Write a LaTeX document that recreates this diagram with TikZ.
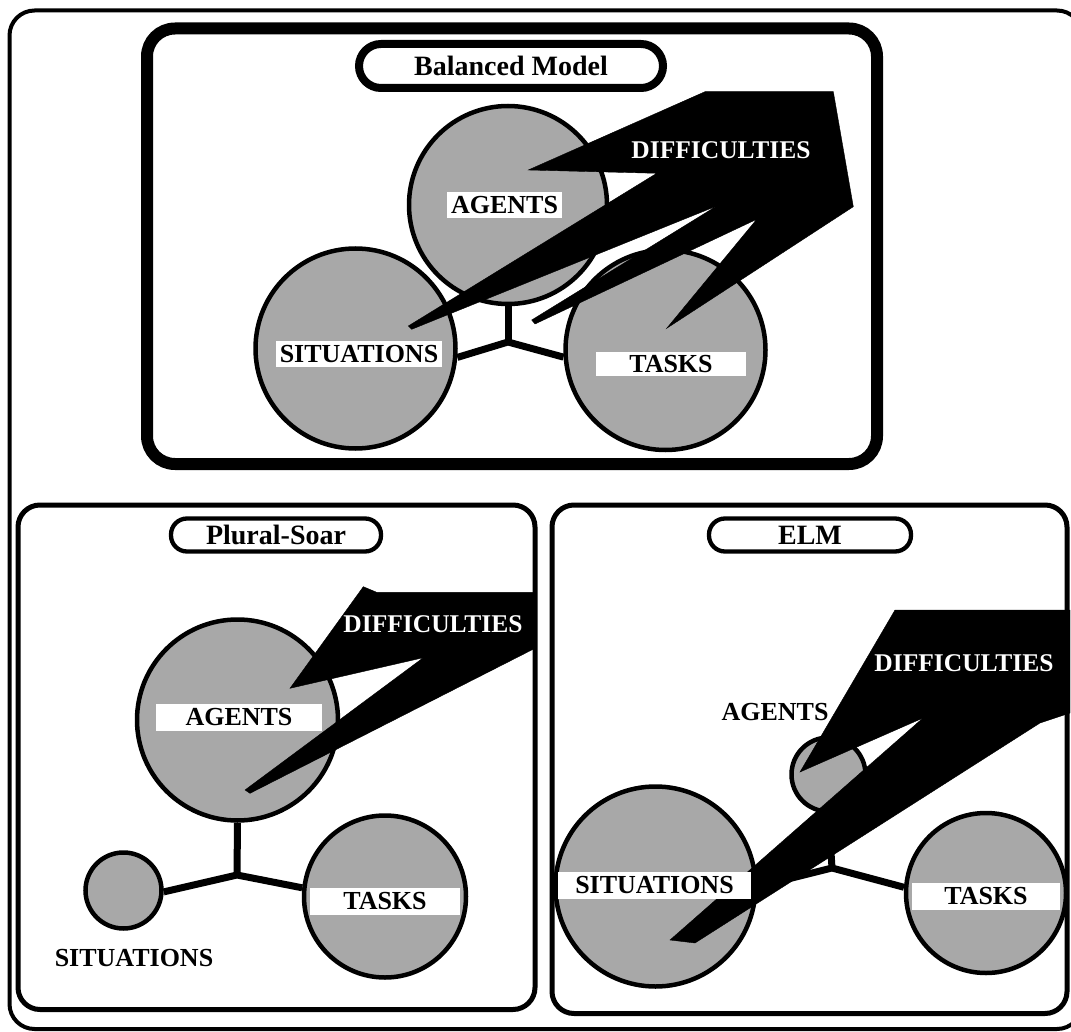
\documentclass[tikz,border=0pt]{standalone}
\usepackage{fontspec}
\setmainfont{Liberation Serif}
\definecolor{discgray}{RGB}{168,168,168}
\begin{document}
\begin{tikzpicture}[x=1pt,y=-1pt,
  disc/.style={circle, draw=black, line width=4.5pt, fill=discgray, inner sep=0pt, minimum size=#1},
  link/.style={line width=7pt},
  tagbox/.style={fill=white, inner sep=0pt, font=\fontsize{26}{26}\selectfont\bfseries},
  plaintag/.style={inner sep=0pt, font=\fontsize{26}{26}\selectfont\bfseries},
  titlepill/.style={draw=black, inner sep=0pt, font=\fontsize{28}{28}\selectfont\bfseries},
  burst/.style={fill=black},
  burstlabel/.style={inner sep=0pt, text=white, font=\fontsize{25.5}{25.5}\selectfont\bfseries}
]
\useasboundingbox (0,0) rectangle (1071,1032);
\clip (0,0) rectangle (1071,1032);

% frames
\draw[line width=4pt, rounded corners=25pt] (9.5,10.5) rectangle (1082,1029);
\draw[line width=12pt, rounded corners=28pt] (147,28.5) rectangle (877,464);
\draw[line width=5pt, rounded corners=22pt] (18,505) rectangle (535,1009.5);
\draw[line width=5pt, rounded corners=22pt] (552,505) rectangle (1067,1013.5);

% titles
\node[titlepill, line width=8pt, rounded corners=22pt, minimum width=304pt, minimum height=44pt] (ttop) at (511,66) {Balanced Model};
\node[titlepill, line width=4.3pt, rounded corners=16pt, minimum width=210pt, minimum height=33pt] (tleft) at (276,535) {Plural-Soar};
\node[titlepill, line width=4.3pt, rounded corners=16pt, minimum width=202pt, minimum height=33pt] (tright) at (810,535) {ELM};

% ---------- Balanced Model ----------
\node[disc=198pt] (agA) at (508,205) {};
\node[disc=200pt] (siA) at (355.5,348.5) {};
\node[disc=200pt] (taA) at (665.5,350) {};
\coordinate (jA) at (508,342);
\draw[link] (agA.south) -- (jA);
\draw[link] (siA.-5) -- (jA) -- (taA.184);
\draw[burst] (705,91.7) -- (833.3,91.7) -- (853.3,206.7) -- (666.7,328.3) -- (756.7,219.3)
  -- (535,324) -- (531.7,320) -- (716.7,206) -- (411.7,329.3) -- (408.3,326)
  -- (656.7,173.3) -- (528.3,170) -- cycle;
\node[burstlabel] (dA) at (721,150) {DIFFICULTIES};
\node[tagbox, minimum width=115pt, minimum height=26pt] (lagA) at (504.5,205) {AGENTS};
\node[tagbox, minimum width=166pt, minimum height=26pt] (lsiA) at (359,354) {SITUATIONS};
\node[tagbox, minimum width=150pt, minimum height=24pt] (ltaA) at (671,364) {TASKS};

% ---------- Plural-Soar ----------
\node[disc=201pt] (agB) at (237.5,720) {};
\node[disc=76pt] (siB) at (123.5,890.5) {};
\node[disc=162pt] (taB) at (385,896.5) {};
\coordinate (jB) at (237,875);
\draw[link] (agB.south) -- (jB);
\draw[link] (siB.-2) -- (jB) -- (taB.174);
\draw[burst] (363.3,586.7) -- (376.7,592.3) -- (535,592.3) -- (535,648.3) -- (250,793.3)
  -- (245,790) -- (423.3,657.7) -- (290,688.3) -- cycle;
\node[burstlabel] (dB) at (433,624) {DIFFICULTIES};
\node[tagbox, minimum width=166pt, minimum height=27pt] (lagB) at (239,717.5) {AGENTS};
\node[tagbox, minimum width=150pt, minimum height=27pt] (ltaB) at (385,901.5) {TASKS};
\node[plaintag] (lsiB) at (134,958) {SITUATIONS};

% ---------- ELM ----------
\node[disc=74pt] (agC) at (828.5,774.5) {};
\node[disc=200pt] (siC) at (655.5,886.5) {};
\node[disc=160pt] (taC) at (986,893) {};
\coordinate (jC) at (832,868);
\draw[link] (agC.south) -- (jC);
\draw[link] (siC.0) -- (jC) -- (taC.176);
\draw[burst] (895,610) -- (1070,610) -- (1070,713) -- (1040,723) -- (695,943)
  -- (670,940) -- (923,718) -- (800,772) -- cycle;
\node[burstlabel] (dC) at (964,663) {DIFFICULTIES};
\node[plaintag] (lagC) at (775,712) {AGENTS};
\node[tagbox, minimum width=193pt, minimum height=27pt] (lsiC) at (654.5,885.5) {SITUATIONS};
\node[tagbox, minimum width=148pt, minimum height=27pt] (ltaC) at (986,896.5) {TASKS};
\end{tikzpicture}
\end{document}
